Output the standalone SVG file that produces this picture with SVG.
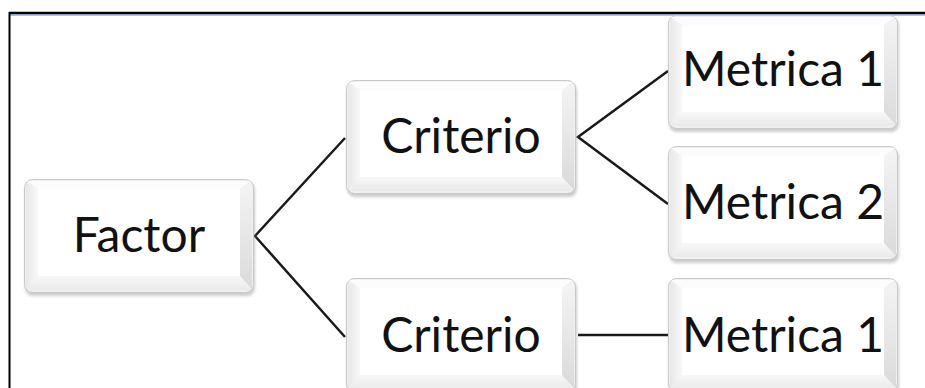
<svg xmlns="http://www.w3.org/2000/svg" xmlns:xlink="http://www.w3.org/1999/xlink" width="925" height="388" viewBox="0 0 925 388">
  <style>
    .label { font-family: Lato, "Open Sans", "Liberation Sans", sans-serif; font-size: 48px; fill: #111; text-anchor: middle; }
    .link { stroke: #1a1a1a; stroke-width: 2.5; fill: none; stroke-linejoin: miter; }
  </style>
  <defs>
    <filter id="soft" x="-10%" y="-10%" width="120%" height="130%">
      <feGaussianBlur stdDeviation="1.5"/>
    </filter>
    <linearGradient id="leftFace" x1="0" y1="0" x2="1" y2="0">
      <stop offset="0" stop-color="#e8e8e8"/>
      <stop offset="1" stop-color="#f8f8f8"/>
    </linearGradient>
    <linearGradient id="rightFace" x1="0" y1="0" x2="0" y2="1">
      <stop offset="0" stop-color="#f4f4f4"/>
      <stop offset="1" stop-color="#dadada"/>
    </linearGradient>
    <linearGradient id="bottomFace" x1="0" y1="0" x2="0" y2="1">
      <stop offset="0" stop-color="#f8f8f8"/>
      <stop offset="1" stop-color="#eaeaea"/>
    </linearGradient>
    <!-- bevelled key-cap box, 230 x 114 -->
    <g id="key">
      <rect x="1" y="3" width="230" height="114" rx="8" fill="#9a9a9a" opacity="0.5" filter="url(#soft)"/>
      <rect x="0.5" y="0.5" width="229" height="113" rx="8" fill="#f0f0f0" stroke="#c8c8c8" stroke-width="1"/>
      <polygon points="3,2 227,2 216,10 14,10" fill="#fcfcfc"/>
      <polygon points="2,4 14,10 14,97 2,110" fill="url(#leftFace)"/>
      <polygon points="228,4 216,10 216,97 228,110" fill="url(#rightFace)"/>
      <polygon points="14,97 216,97 227,111 3,111" fill="url(#bottomFace)"/>
      <rect x="14" y="10" width="202" height="87" fill="#ffffff"/>
    </g>
  </defs>

  <rect x="0" y="0" width="925" height="388" fill="#ffffff"/>

  <!-- frame -->
  <g id="frame">
    <line x1="9" y1="13" x2="925" y2="13" stroke="#000" stroke-width="2.5"/>
    <line x1="10" y1="15" x2="925" y2="15" stroke="#5b88d0" stroke-width="1.2"/>
    <line x1="9.5" y1="12" x2="9.5" y2="388" stroke="#000" stroke-width="2"/>
  </g>

  <!-- connectors -->
  <g id="connectors">
    <polyline class="link" points="345,138 255,236 345,337"/>
    <polyline class="link" points="668,71 578,137 668,204"/>
    <line class="link" x1="578" y1="335" x2="668" y2="335"/>
  </g>

  <g id="factor">
    <use xlink:href="#key" x="24" y="179"/>
    <text class="label" x="139" y="252">Factor</text>
  </g>
  <g id="criterio-1">
    <use xlink:href="#key" x="346" y="80"/>
    <text class="label" x="461" y="153">Criterio</text>
  </g>
  <g id="criterio-2">
    <use xlink:href="#key" x="346" y="278"/>
    <text class="label" x="461" y="352">Criterio</text>
  </g>
  <g id="metrica-1a">
    <use xlink:href="#key" x="668" y="15"/>
    <text class="label" x="783" y="86">Metrica 1</text>
  </g>
  <g id="metrica-2">
    <use xlink:href="#key" x="668" y="146"/>
    <text class="label" x="783" y="219">Metrica 2</text>
  </g>
  <g id="metrica-1b">
    <use xlink:href="#key" x="668" y="278"/>
    <text class="label" x="783" y="352">Metrica 1</text>
  </g>
</svg>
